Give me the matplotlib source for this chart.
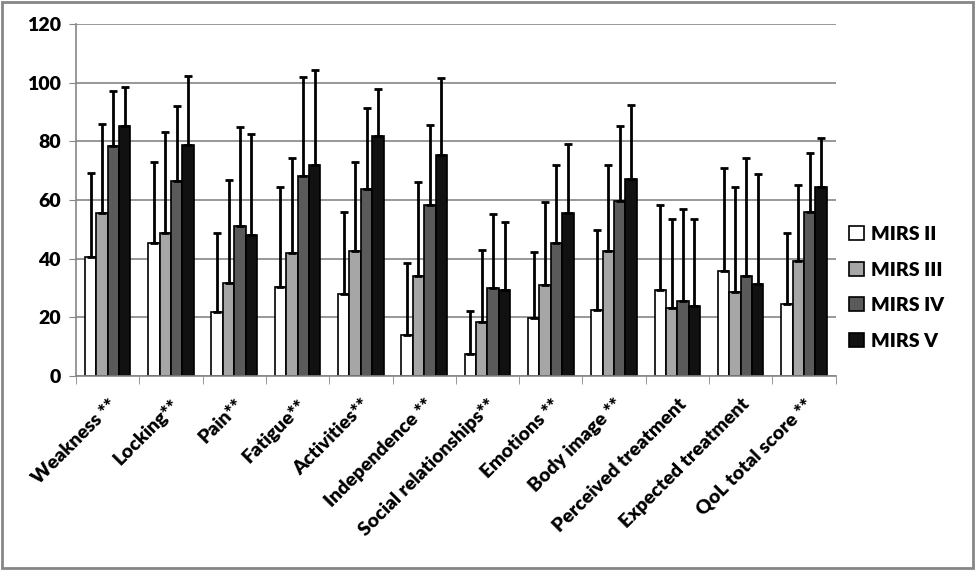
import matplotlib.pyplot as plt
import numpy as np
from matplotlib.patches import Rectangle

categories = ['Weakness **', 'Locking**', 'Pain**', 'Fatigue**', 'Activities**',
              'Independence **', 'Social relationships**', 'Emotions **',
              'Body image **', 'Perceived treatment', 'Expected treatment',
              'QoL total score **']
series = ['MIRS II', 'MIRS III', 'MIRS IV', 'MIRS V']

# bar heights (means)
mirs2 = [40.5, 45.4, 21.7, 30.5, 27.9, 14.2, 7.6, 19.7, 22.5, 29.3, 36.0, 24.7]
mirs3 = [55.5, 48.8, 31.9, 41.9, 42.8, 34.3, 18.6, 31.2, 42.8, 23.4, 28.8, 39.1]
mirs4 = [78.4, 66.4, 51.1, 68.1, 63.7, 58.2, 29.9, 45.4, 59.8, 25.5, 34.0, 56.0]
mirs5 = [85.2, 78.7, 48.0, 72.1, 81.8, 75.3, 29.3, 55.6, 67.2, 23.8, 31.3, 64.5]

# top of the error bars (mean + SD)
top2 = [69.1, 72.9, 48.9, 64.6, 56.1, 38.4, 22.3, 42.4, 49.9, 58.2, 70.9, 48.9]
top3 = [85.9, 83.2, 66.8, 74.2, 72.8, 66.0, 43.1, 59.5, 71.8, 53.7, 64.6, 65.3]
top4 = [97.2, 92.1, 84.8, 102.0, 91.3, 85.5, 55.4, 71.8, 85.2, 56.8, 74.5, 75.9]
top5 = [98.6, 102.3, 82.4, 104.3, 97.8, 101.5, 52.6, 79.0, 92.4, 53.7, 68.8, 81.0]

means = [mirs2, mirs3, mirs4, mirs5]
tops = [top2, top3, top4, top5]
colors = ['#ffffff', '#a6a6a6', '#5a5a5a', '#111111']

plt.rcParams['font.family'] = ['Lato', 'DejaVu Sans']
plt.rcParams['font.weight'] = 'bold'

fig = plt.figure(figsize=(9.75, 5.7), dpi=100)
ax = fig.add_axes([0.078, 0.340, 0.779, 0.618])

x = np.arange(len(categories))
w = 0.18
for i in range(4):
    m = np.array(means[i])
    t = np.array(tops[i])
    pos = x + (i - 1.5) * w
    ax.bar(pos, m, w, color=colors[i], edgecolor='black', linewidth=1.2,
           label=series[i], zorder=2)
    ax.errorbar(pos, m, yerr=[np.zeros_like(m), t - m], fmt='none',
                ecolor='black', elinewidth=2, capsize=3.2, capthick=2,
                zorder=3)

ax.set_xlim(-0.5, len(categories) - 0.5)
ax.set_ylim(0, 120)
ax.set_yticks(range(0, 121, 20))
ax.yaxis.grid(True, color='#868686', linewidth=1.2, zorder=0)
ax.set_axisbelow(True)

ax.set_xticks(x)
ax.set_xticklabels(categories, rotation=45, ha='right', rotation_mode='anchor',
                   fontsize=14, fontweight='heavy')
ax.set_xticks(np.arange(-0.5, len(categories)), minor=True)
ax.tick_params(axis='x', which='major', length=0, pad=14)
ax.tick_params(axis='x', which='minor', length=6, color='#868686')
ax.tick_params(axis='y', length=5, color='#868686', labelsize=14, pad=6)
for lab in ax.get_yticklabels():
    lab.set_fontweight('heavy')

for s in ['top', 'right']:
    ax.spines[s].set_visible(False)
for s in ['left', 'bottom']:
    ax.spines[s].set_color('#868686')
    ax.spines[s].set_linewidth(1.2)

leg = ax.legend(loc='center left', bbox_to_anchor=(0.853, 0.495),
                bbox_transform=fig.transFigure, frameon=False,
                handlelength=0.75, handleheight=0.75, labelspacing=0.95,
                handletextpad=0.35, prop={'size': 14, 'weight': 'heavy'})

fig.patches.append(Rectangle((0.002, 0.003), 0.996, 0.994, transform=fig.transFigure,
                             fill=False, edgecolor='#868686', linewidth=2))

fig.savefig('out.png', dpi=100)
